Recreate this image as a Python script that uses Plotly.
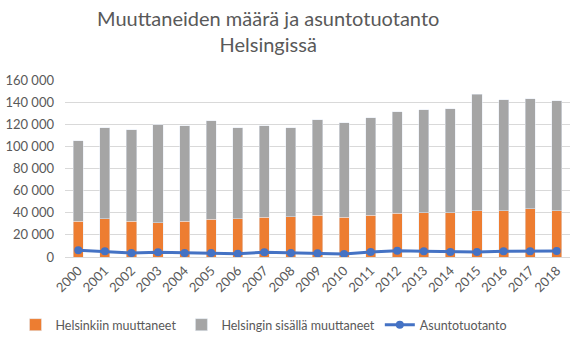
import plotly.graph_objects as go

years = [str(y) for y in range(2000, 2019)]
helsinkiin = [32200, 34600, 32200, 31000, 32200, 34000, 34600, 35800, 36400, 37600,
              35800, 37600, 39400, 40000, 40000, 41800, 41800, 43600, 41800]
sisalla = [72900, 82300, 82900, 88600, 86500, 89200, 82300, 82900, 80500, 86500,
           85600, 88300, 91900, 93100, 94000, 105200, 100400, 99500, 99500]
asunto = [6000, 5100, 3600, 4200, 3600, 3600, 3000, 4200, 3600, 3300,
          2700, 4500, 5700, 5100, 4500, 4500, 5100, 5100, 5400]
y_ticks = list(range(0, 160001, 20000))

FONT = "Lato"
GREY_TXT = "#595959"

fig = go.Figure()
fig.add_trace(go.Bar(x=years, y=helsinkiin, name="Helsinkiin muuttaneet",
                     marker_color="#ED7D31"))
fig.add_trace(go.Bar(x=years, y=sisalla, name="Helsingin sisällä muuttaneet",
                     marker_color="#A5A5A5"))
fig.add_trace(go.Scatter(x=years, y=asunto, name="Asuntotuotanto", mode="lines+markers",
                         line=dict(color="#4472C4", width=3),
                         marker=dict(size=8, color="#4472C4")))

L, R, T, B = 65, 0, 80, 83
plot_h = 340 - T - B
plot_w = 570 - L - R

fig.update_layout(
    width=570, height=340,
    barmode="stack", bargap=0.62,
    separators=", ",
    paper_bgcolor="white", plot_bgcolor="white",
    margin=dict(l=L, r=R, t=T, b=B, autoexpand=False),
    font=dict(family=FONT, color=GREY_TXT, size=13),
    legend=dict(orientation="h", x=(264 - L) / plot_w, xanchor="center",
                y=-(325 - 257) / plot_h, yanchor="middle",
                font=dict(size=12.5, color=GREY_TXT),
                traceorder="normal", tracegroupgap=0, itemwidth=30),
    showlegend=True,
    annotations=[dict(text="Muuttaneiden määrä ja asuntotuotanto<br>Helsingissä",
                      x=(268 - L) / plot_w, y=(340 - B - 31) / plot_h,
                      xref="paper", yref="paper",
                      xanchor="center", yanchor="middle", showarrow=False,
                      font=dict(family=FONT, size=20, color=GREY_TXT))],
)
fig.update_xaxes(type="category", tickangle=-45, showgrid=False,
                 range=[-0.5, len(years) - 0.5],
                 tickmode="array", tickvals=years, ticktext=years,
                 showline=True, linecolor="#d9d9d9", ticks="",
                 tickfont=dict(size=13, color=GREY_TXT))
fig.update_yaxes(range=[0, 160000], tickvals=y_ticks, tickformat=",d",
                 showgrid=True, gridcolor="#d9d9d9", gridwidth=1,
                 zeroline=False, showline=False, ticks="",
                 ticklabelstandoff=10,
                 tickfont=dict(size=13, color=GREY_TXT))

fig.write_html("out.html")
